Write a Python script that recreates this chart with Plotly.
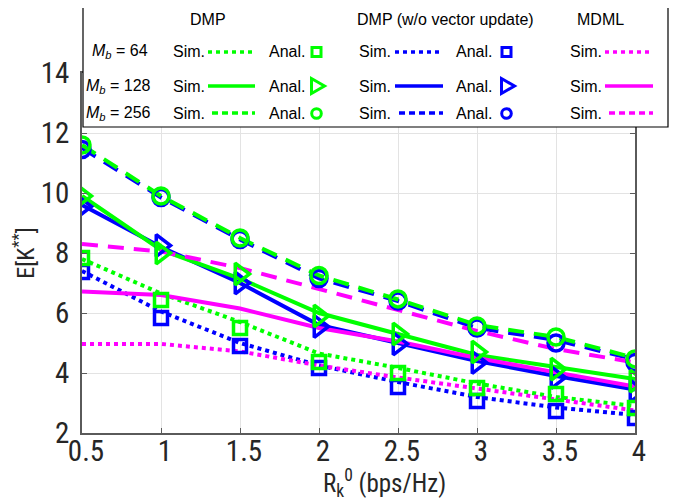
import plotly.graph_objects as go

# ---------------- data ----------------
rate = [0.5, 1.0, 1.5, 2.0, 2.5, 3.0, 3.5, 4.0]
x_ticks = [0.5, 1, 1.5, 2, 2.5, 3, 3.5, 4]
x_tick_labels = ["0.5", "1", "1.5", "2", "2.5", "3", "3.5", "4"]
y_ticks = [2, 4, 6, 8, 10, 12, 14]
y_tick_labels = ["2", "4", "6", "8", "10", "12", "14"]

# DMP (green)
dmp_sim_64 = [7.8, 6.65, 5.7, 4.65, 4.17, 3.65, 3.2, 2.9]
dmp_anal_64 = [7.83, 6.43, 5.5, 4.37, 4.0, 3.5, 3.3, 2.83]
dmp_sim_128 = [9.9, 8.1, 7.15, 6.0, 5.3, 4.6, 4.2, 3.8]
dmp_anal_128 = [9.9, 8.0, 7.3, 5.9, 5.3, 4.7, 4.13, 3.73]
dmp_sim_256 = [11.6, 9.9, 8.5, 7.25, 6.45, 5.6, 5.2, 4.5]
dmp_anal_256 = [11.6, 9.9, 8.5, 7.25, 6.47, 5.57, 5.2, 4.47]

# DMP without vector update (blue)
wo_sim_64 = [7.4, 6.05, 5.0, 4.25, 3.7, 3.2, 2.85, 2.6]
wo_anal_64 = [7.37, 5.83, 4.9, 4.17, 3.53, 3.07, 2.73, 2.5]
wo_sim_128 = [9.6, 8.2, 7.0, 5.6, 5.0, 4.4, 3.9, 3.45]
wo_anal_128 = [9.55, 8.25, 7.0, 5.55, 4.97, 4.35, 3.85, 3.4]
wo_sim_256 = [11.5, 9.85, 8.45, 7.15, 6.4, 5.5, 5.1, 4.45]
wo_anal_256 = [11.45, 9.85, 8.45, 7.15, 6.4, 5.5, 5.0, 4.35]

# MDML (magenta)
mdml_sim_64 = [4.97, 4.97, 4.72, 4.25, 3.85, 3.48, 3.1, 2.75]
mdml_sim_128 = [6.72, 6.6, 6.15, 5.5, 5.05, 4.5, 4.02, 3.55]
mdml_sim_256 = [8.3, 8.05, 7.5, 6.8, 6.1, 5.4, 4.8, 4.35]

GREEN = "#00FF00"
BLUE = "#0000FF"
MAGENTA = "#FF00FF"
DOT = "4px,4px"
DASH = "16px,10px"

TICK_FONT = "Roboto Condensed, Liberation Sans Narrow, Arial Narrow, sans-serif"
TEXT_FONT = "Liberation Sans, Arial, sans-serif"

fig = go.Figure()


def add_line(y, color, dash):
    fig.add_trace(go.Scatter(x=rate, y=y, mode="lines",
                             line=dict(color=color, width=4, dash=dash),
                             showlegend=False, hoverinfo="skip"))


def add_markers(y, color, symbol, size):
    fig.add_trace(go.Scatter(x=rate, y=y, mode="markers",
                             marker=dict(symbol=symbol, size=size, color=color,
                                         line=dict(color=color, width=3.5)),
                             showlegend=False, hoverinfo="skip"))


# lines
add_line(wo_sim_64, BLUE, DOT)
add_line(wo_sim_128, BLUE, "solid")
add_line(wo_sim_256, BLUE, DASH)
add_line(dmp_sim_64, GREEN, DOT)
add_line(dmp_sim_128, GREEN, "solid")
add_line(dmp_sim_256, GREEN, DASH)
add_line(mdml_sim_64, MAGENTA, DOT)
add_line(mdml_sim_128, MAGENTA, "solid")
add_line(mdml_sim_256, MAGENTA, DASH)
# markers
add_markers(wo_anal_64, BLUE, "square-open", 13)
add_markers(wo_anal_128, BLUE, "triangle-right-open", 19)
add_markers(wo_anal_256, BLUE, "circle-open", 16)
add_markers(dmp_anal_64, GREEN, "square-open", 13)
add_markers(dmp_anal_128, GREEN, "triangle-right-open", 19)
add_markers(dmp_anal_256, GREEN, "circle-open", 16)

# ---------------- layout ----------------
# screen-space plot area (page body adds an 8px offset)
OFF = 8
L, R, T, B = 82, 635, 73, 433
W, H = 689 - OFF, 501 - OFF


def px(x):
    return (x - L) / (R - L)


def py(y):
    return (B - y) / (B - T)


shapes = []
annotations = []

# legend box
shapes.append(dict(type="rect", xref="paper", yref="paper", layer="above",
                   x0=px(83), x1=px(668), y0=py(127), y1=py(1.5),
                   fillcolor="white", line=dict(color="black", width=1.2)))


def leg_text(x, y, text, anchor="left"):
    annotations.append(dict(xref="paper", yref="paper", x=px(x), y=py(y),
                            text=text, showarrow=False, xanchor=anchor,
                            yanchor="middle", borderpad=0,
                            font=dict(family=TEXT_FONT, size=16, color="black")))


def leg_line(x0, x1, y, color, dash):
    shapes.append(dict(type="line", xref="paper", yref="paper", layer="above",
                       x0=px(x0), x1=px(x1), y0=py(y), y1=py(y),
                       line=dict(color=color, width=3.5, dash=dash)))


def leg_square(cx, cy, color):
    shapes.append(dict(type="rect", xref="paper", yref="paper", layer="above",
                       x0=px(cx - 4.5), x1=px(cx + 4.5), y0=py(cy + 4.5), y1=py(cy - 4.5),
                       line=dict(color=color, width=3)))


def leg_circle(cx, cy, color):
    shapes.append(dict(type="circle", xref="paper", yref="paper", layer="above",
                       x0=px(cx - 4.8), x1=px(cx + 4.8), y0=py(cy + 4.8), y1=py(cy - 4.8),
                       line=dict(color=color, width=3)))


def leg_tri(cx, cy, color):
    p = "M{},{} L{},{} L{},{} Z".format(px(cx - 5), py(cy - 7.5), px(cx - 5), py(cy + 7.5),
                                         px(cx + 8), py(cy))
    shapes.append(dict(type="path", xref="paper", yref="paper", layer="above",
                       path=p, line=dict(color=color, width=3)))


# headers
leg_text(208, 19, "DMP", "center")
leg_text(445, 19, "DMP (w/o vector update)", "center")
leg_text(600, 19, "MDML", "center")

rows = [(52, "<i>M</i><sub><i>b</i></sub> = 64", DOT, 91),
        (86, "<i>M</i><sub><i>b</i></sub> = 128", "solid", 85),
        (113, "<i>M</i><sub><i>b</i></sub> = 256", "6px,4px", 85)]
for i, (yy, lab, dsh, lx) in enumerate(rows):
    leg_text(lx, yy, lab)
    leg_text(172, yy, "Sim.")
    leg_line(208 if i < 2 else 212, 255, yy, GREEN, dsh)
    leg_text(268, yy, "Anal.")
    leg_text(358, yy, "Sim.")
    leg_line(395 if i < 2 else 399, 443, yy, BLUE, dsh)
    leg_text(455, yy, "Anal.")
    leg_text(569, yy, "Sim.")
    leg_line(605 if i < 2 else 609, 653, yy, MAGENTA, dsh)

leg_square(316.5, 52, GREEN)
leg_tri(316.5, 86, GREEN)
leg_circle(316.5, 113.5, GREEN)
leg_square(506.5, 52, BLUE)
leg_tri(506.5, 86, BLUE)
leg_circle(506.5, 113.5, BLUE)

# x-axis title (placed as text below the axis, as in the reference)
annotations.append(dict(xref="paper", yref="paper", x=px(384), y=py(483),
                        text="R<sub>k</sub><sup>0</sup> (bps/Hz)", showarrow=False,
                        xanchor="center", yanchor="middle",
                        font=dict(family=TICK_FONT, size=25, color="#262626")))

axis_common = dict(showgrid=True, gridcolor="#e3e3e3", gridwidth=1,
                   showline=True, linecolor="#5a5a5a", linewidth=1.5,
                   mirror="ticks", ticks="inside", ticklen=5, tickcolor="#5a5a5a",
                   zeroline=False, automargin=False,
                   tickfont=dict(family=TICK_FONT, size=29, color="#262626"))

fig.update_layout(
    width=W, height=H,
    margin=dict(l=L - OFF, r=689 - R, t=T - OFF, b=501 - B, pad=0),
    paper_bgcolor="white", plot_bgcolor="white",
    xaxis=dict(range=[0.5, 4], tickvals=x_ticks, ticktext=x_tick_labels,
               ticklabelstandoff=-9, ticklabelshift=4, **axis_common),
    yaxis=dict(range=[2, 14], tickvals=y_ticks, ticktext=y_tick_labels,
               ticklabelstandoff=5,
               title=dict(text="E[K<sup>**</sup>]", standoff=12,
                          font=dict(family=TICK_FONT, size=24, color="#262626")),
               **axis_common),
    shapes=shapes,
    annotations=annotations,
    showlegend=False,
)

fig.write_html("out.html")
